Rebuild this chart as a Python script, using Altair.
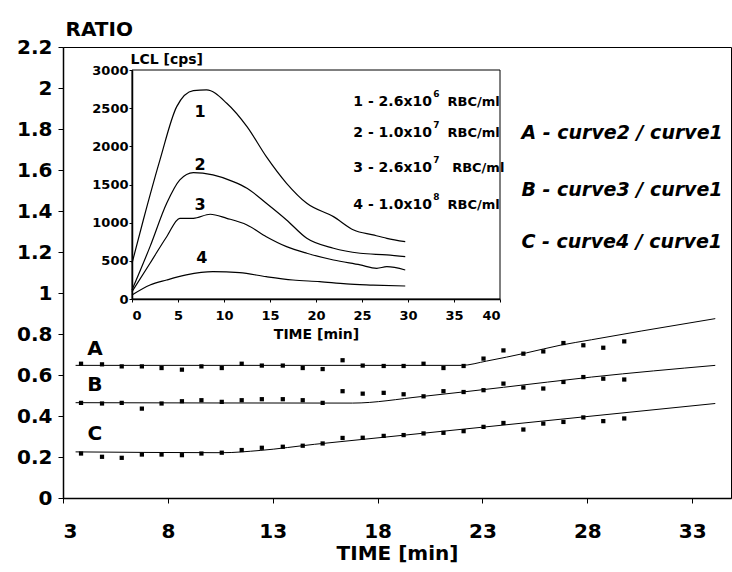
import altair as alt
import pandas as pd

FONT = "DejaVu Sans"

# ---------------- main chart data (ratio vs time) ----------------
TIME = [3.86, 4.86, 5.80, 6.76, 7.70, 8.67, 9.60, 10.57, 11.52, 12.48, 13.48, 14.43,
        15.38, 16.33, 17.29, 18.29, 19.24, 20.19, 21.14, 22.10, 23.05, 24.00, 24.95,
        25.90, 26.86, 27.81, 28.76, 29.76]
RATIO_A = [0.655, 0.652, 0.642, 0.642, 0.634, 0.626, 0.642, 0.634, 0.655, 0.646, 0.646,
           0.634, 0.629, 0.672, 0.646, 0.644, 0.644, 0.655, 0.634, 0.644, 0.680, 0.720,
           0.704, 0.715, 0.756, 0.745, 0.733, 0.764]
RATIO_B = [0.464, 0.461, 0.464, 0.436, 0.461, 0.472, 0.477, 0.469, 0.477, 0.482, 0.482,
           0.477, 0.464, 0.521, 0.509, 0.513, 0.506, 0.496, 0.521, 0.517, 0.526, 0.558,
           0.539, 0.534, 0.566, 0.590, 0.582, 0.578]
RATIO_C = [0.217, 0.201, 0.196, 0.212, 0.212, 0.209, 0.217, 0.221, 0.234, 0.245, 0.250,
           0.255, 0.266, 0.293, 0.294, 0.303, 0.307, 0.315, 0.318, 0.326, 0.347, 0.366,
           0.334, 0.363, 0.371, 0.393, 0.375, 0.388]

FIT_A_T = [3.6, 22.0, 23.2, 25.1, 26.7, 28.2, 30.6, 34.1]
FIT_A = [0.647, 0.647, 0.668, 0.708, 0.745, 0.772, 0.815, 0.875]
FIT_B_T = [3.6, 16.8, 20.1, 24.0, 28.2, 34.1]
FIT_B = [0.465, 0.463, 0.495, 0.540, 0.590, 0.647]
FIT_C_T = [3.6, 10.6, 12.4, 15.0, 17.3, 34.1]
FIT_C = [0.225, 0.221, 0.232, 0.262, 0.286, 0.461]

SERIES_LABELS = ["A", "B", "C"]
SERIES_LABEL_X = [4.52, 4.52, 4.52]
SERIES_LABEL_Y = [0.729, 0.549, 0.310]

LEGEND_TEXT = ["A - curve2 / curve1", "B - curve3 / curve1", "C - curve4 / curve1"]
LEGEND_X = [24.86, 24.86, 24.86]
LEGEND_Y = [1.780, 1.502, 1.249]

MAIN_X_TICKS = [3, 8, 13, 18, 23, 28, 33]
MAIN_Y_TICKS = [0, 0.2, 0.4, 0.6, 0.8, 1.0, 1.2, 1.4, 1.6, 1.8, 2.0, 2.2]

# ---------------- inset data (LCL vs time) ----------------
C1_T = [0, 1.23, 3.04, 4.86, 6.67, 8.1, 10.3, 12.5, 14.6, 16.8, 19.0, 21.9, 24.1, 26.2, 27.7, 29.7]
C1 = [468, 1035, 1822, 2520, 2730, 2739, 2565, 2258, 1865, 1516, 1254, 1079, 904, 839, 795, 751]
C2_T = [0, 1.96, 3.77, 5.2, 6.67, 8.8, 11.0, 12.5, 14.6, 16.8, 19.0, 21.9, 24.8, 27.7, 29.7]
C2 = [118, 686, 1254, 1560, 1656, 1625, 1538, 1451, 1254, 1035, 795, 665, 599, 577, 554]
C3_T = [0, 1.96, 3.77, 5.2, 6.67, 8.5, 10.3, 12.5, 14.6, 16.8, 19.0, 21.9, 24.8, 26.6, 27.7, 29.7]
C3 = [96, 468, 816, 1057, 1057, 1110, 1057, 970, 816, 686, 599, 511, 446, 402, 423, 380]
C4_T = [0, 1.96, 3.77, 5.9, 8.8, 11.7, 14.6, 17.5, 20.4, 23.3, 26.2, 29.7]
C4 = [52, 183, 249, 315, 358, 345, 292, 249, 227, 197, 183, 170]

CURVE_LABELS = ["1", "2", "3", "4"]
CURVE_LABEL_T = [7.4, 7.4, 7.4, 7.6]
CURVE_LABEL_Y = [2455, 1756, 1232, 533]

CONC_MAIN = ["1 - 2.6x10", "2 - 1.0x10", "3 - 2.6x10", "4 - 1.0x10"]
CONC_EXP = ["6", "7", "7", "8"]
CONC_UNIT = ["RBC/ml", "RBC/ml", "RBC/ml", "RBC/ml"]
CONC_Y = [2582, 2176, 1717, 1232]
CONC_MAIN_T = [32.6, 32.6, 32.6, 32.6]
CONC_EXP_T = [32.75, 32.75, 32.75, 32.75]
CONC_UNIT_T = [34.3, 34.3, 34.8, 34.3]

INSET_X_TICKS = [0, 5, 10, 15, 20, 25, 30, 35, 40]
INSET_Y_TICKS = [0, 500, 1000, 1500, 2000, 2500, 3000]

# ---------------- tables ----------------
pts = pd.DataFrame({
    "x": TIME * 3,
    "y": RATIO_A + RATIO_B + RATIO_C,
    "s": ["A"] * len(TIME) + ["B"] * len(TIME) + ["C"] * len(TIME),
})
fits = pd.DataFrame({
    "x": FIT_A_T + FIT_B_T + FIT_C_T,
    "y": FIT_A + FIT_B + FIT_C,
    "s": ["A"] * len(FIT_A_T) + ["B"] * len(FIT_B_T) + ["C"] * len(FIT_C_T),
})
slabels = pd.DataFrame({"x": SERIES_LABEL_X, "y": SERIES_LABEL_Y, "t": SERIES_LABELS})
legend = pd.DataFrame({"x": LEGEND_X, "y": LEGEND_Y, "t": LEGEND_TEXT})

curves = pd.DataFrame({
    "x": C1_T + C2_T + C3_T + C4_T,
    "y": C1 + C2 + C3 + C4,
    "c": ["1"] * len(C1_T) + ["2"] * len(C2_T) + ["3"] * len(C3_T) + ["4"] * len(C4_T),
})
clabels = pd.DataFrame({"x": CURVE_LABEL_T, "y": CURVE_LABEL_Y, "t": CURVE_LABELS})
conc_main = pd.DataFrame({"x": CONC_MAIN_T, "y": CONC_Y, "t": CONC_MAIN})
conc_exp = pd.DataFrame({"x": CONC_EXP_T, "y": CONC_Y, "t": CONC_EXP})
conc_unit = pd.DataFrame({"x": CONC_UNIT_T, "y": CONC_Y, "t": CONC_UNIT})
box = pd.DataFrame({"x": [INSET_X_TICKS[0]], "x2": [INSET_X_TICKS[-1]],
                    "y": [INSET_Y_TICKS[0]], "y2": [INSET_Y_TICKS[-1]]})

# ---------------- main encodings ----------------
common_axis = dict(labelFont=FONT, titleFont=FONT, labelColor="black", titleColor="black",
                   domainColor="black", tickColor="black", grid=False,
                   labelFontWeight="bold", titleFontWeight="bold")

MX = alt.X("x:Q", scale=alt.Scale(domain=[3, 34.85], nice=False, zero=False),
           axis=alt.Axis(values=MAIN_X_TICKS, title="TIME [min]", labelFontSize=20,
                         titleFontSize=20, tickSize=5, labelPadding=18, titlePadding=2,
                         domainWidth=1.5, **common_axis))
MY = alt.Y("y:Q", scale=alt.Scale(domain=[0, 2.2], nice=False),
           axis=alt.Axis(values=MAIN_Y_TICKS, format="~g", title="RATIO", labelFontSize=20,
                         titleFontSize=20, tickSize=5, labelPadding=6, domainWidth=1.5,
                         titleAngle=0, titleAlign="left", titleBaseline="alphabetic",
                         titleX=2, titleY=-12, **common_axis))

main_pts = alt.Chart(pts).mark_square(size=18, color="black", opacity=1).encode(
    x=MX, y=MY, detail="s:N")
main_fit = alt.Chart(fits).mark_line(color="black", strokeWidth=1, interpolate="monotone").encode(
    x=MX, y=MY, detail="s:N")
main_lab = alt.Chart(slabels).mark_text(font=FONT, fontSize=20, fontWeight="bold",
                                        color="black", align="center", baseline="middle").encode(
    x=MX, y=MY, text="t:N")
main_leg = alt.Chart(legend).mark_text(font=FONT, fontSize=19, fontWeight="bold",
                                       fontStyle="italic", color="black", align="left",
                                       baseline="middle").encode(x=MX, y=MY, text="t:N")
main = alt.layer(main_fit, main_pts, main_lab, main_leg)

# ---------------- inset encodings ----------------
IX = alt.X("x:Q", scale=alt.Scale(domain=[0, 40], range=[69, 437], nice=False, zero=False),
           axis=alt.Axis(values=INSET_X_TICKS, format="d", orient="bottom", offset=-199,
                         title="TIME [min]", labelFontSize=13, titleFontSize=14, tickSize=3,
                         labelPadding=7, titlePadding=5, domainWidth=1.5, **common_axis))
IY = alt.Y("y:Q", scale=alt.Scale(domain=[0, 3000], range=[252, 23], nice=False),
           axis=alt.Axis(values=INSET_Y_TICKS, format="d", orient="left", offset=-69,
                         title="LCL [cps]", labelFontSize=13, titleFontSize=14, tickSize=3,
                         labelPadding=1, domainWidth=1.5, titleAngle=0, titleAlign="left",
                         titleBaseline="middle", titleX=-2, titleY=12, **common_axis))
IX2 = alt.X2("x2:Q")
IY2 = alt.Y2("y2:Q")

ins_box = alt.Chart(box).mark_rect(fillOpacity=0, stroke="black", strokeWidth=1).encode(
    x=IX, x2=IX2, y=IY, y2=IY2)
ins_curves = alt.Chart(curves).mark_line(color="black", strokeWidth=1.2,
                                         interpolate="monotone").encode(x=IX, y=IY, detail="c:N")
ins_lab = alt.Chart(clabels).mark_text(font=FONT, fontSize=16, fontWeight="bold", color="black",
                                       align="center", baseline="middle").encode(
    x=IX, y=IY, text="t:N")
ins_cm = alt.Chart(conc_main).mark_text(font=FONT, fontSize=14, fontWeight="bold", color="black",
                                        align="right", baseline="middle").encode(
    x=IX, y=IY, text="t:N")
ins_ce = alt.Chart(conc_exp).mark_text(font=FONT, fontSize=9, fontWeight="bold", color="black",
                                       align="left", baseline="middle", dy=-8).encode(
    x=IX, y=IY, text="t:N")
ins_cu = alt.Chart(conc_unit).mark_text(font=FONT, fontSize=13, fontWeight="bold", color="black",
                                        align="left", baseline="middle").encode(
    x=IX, y=IY, text="t:N")
inset = alt.layer(ins_box, ins_curves, ins_lab, ins_cm, ins_ce, ins_cu)

chart = alt.layer(main, inset).resolve_scale(x="independent", y="independent").properties(
    width=668, height=451,
    autosize=alt.AutoSizeParams(type="none"),
    padding={"left": 63, "top": 47, "right": 1, "bottom": 74},
    background="white",
).configure_view(stroke="black", strokeWidth=1)

chart.save("out.html", embed_options={"renderer": "svg", "actions": False})
